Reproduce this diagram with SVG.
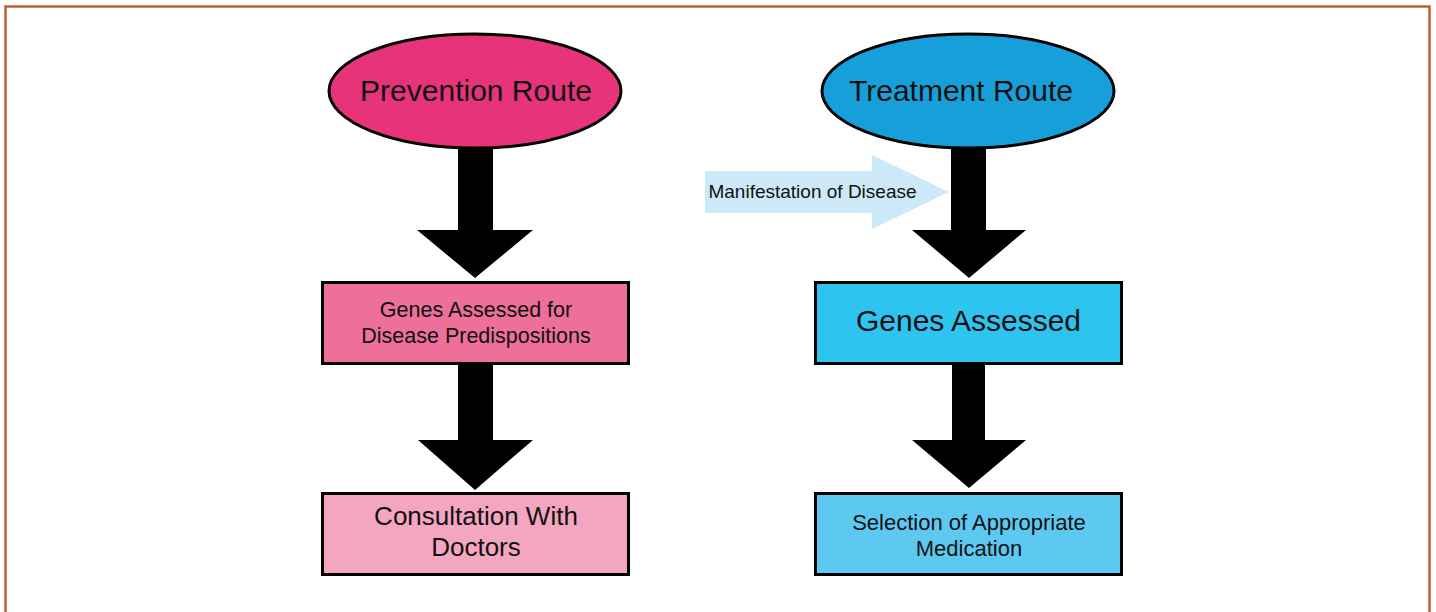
<svg xmlns="http://www.w3.org/2000/svg" width="1436" height="612" viewBox="0 0 1436 612">
<style>
.node{stroke:#000;stroke-width:3}
.t{font-family:"Liberation Sans",Arial,sans-serif;fill:#111;text-anchor:middle}
.arr{fill:#000}
</style>
<rect x="0" y="0" width="1436" height="612" fill="#fff"/>
<rect x="5.5" y="6.5" width="1424" height="640" fill="none" stroke="#C0602E" stroke-width="2.5"/>
<g id="connectors">
<path class="arr" d="M458,146 H493 V230 H533 L475,278 L417,230 H458 Z"/>
<path class="arr" d="M458,363 H493 V440 H533 L475,490 L418,440 H458 Z"/>
<path class="arr" d="M951,146 H986 V230 H1026 L969,278 L912,230 H951 Z"/>
<path class="arr" d="M952,363 H985 V440 H1026 L969,488 L912,440 H952 Z"/>
</g>
<g id="manifestation">
<path d="M705,171 H872 V155 L949,192 L872,229 V213 H705 Z" fill="#CDE9F7"/>
<text class="t" x="812.5" y="198" font-size="19">Manifestation of Disease</text>
</g>
<g id="prevention">
<ellipse class="node" cx="475" cy="91" rx="146" ry="57" fill="#E6337A"/>
<text class="t" x="476" y="101" font-size="30">Prevention Route</text>
</g>
<g id="treatment">
<ellipse class="node" cx="968" cy="91" rx="146" ry="57" fill="#169FD8"/>
<text class="t" x="961" y="101" font-size="30">Treatment Route</text>
</g>
<g id="genes-predisp">
<rect class="node" x="322.5" y="282.5" width="306" height="81" fill="#EE6F9A"/>
<text class="t" x="476" y="317" font-size="21.5">Genes Assessed for</text>
<text class="t" x="476" y="343" font-size="21.5">Disease Predispositions</text>
</g>
<g id="consultation">
<rect class="node" x="322.5" y="493.5" width="306" height="81" fill="#F4A5C0"/>
<text class="t" x="476" y="525" font-size="26">Consultation With</text>
<text class="t" x="476" y="556" font-size="26">Doctors</text>
</g>
<g id="genes-assessed">
<rect class="node" x="815.5" y="282.5" width="306" height="81" fill="#2EC4F0"/>
<text class="t" x="968.5" y="331" font-size="30">Genes Assessed</text>
</g>
<g id="selection">
<rect class="node" x="815.5" y="493.5" width="306" height="81" fill="#5DC9F1"/>
<text class="t" x="969" y="530" font-size="22">Selection of Appropriate</text>
<text class="t" x="969" y="556" font-size="22">Medication</text>
</g>
</svg>
